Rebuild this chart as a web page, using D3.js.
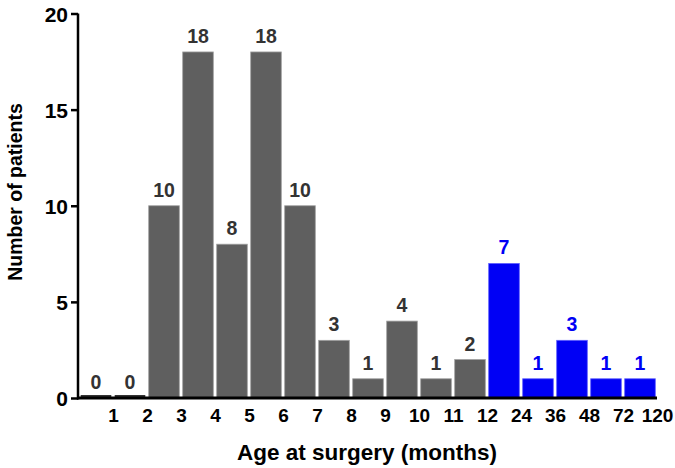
<!DOCTYPE html>
<html><head><meta charset="utf-8">
<script src="https://cdn.jsdelivr.net/npm/d3@7"></script>
<style>body{margin:0;background:#fff}svg{display:block}text{font-family:Arial,"Liberation Sans",sans-serif}</style>
</head><body>
<svg id="c" width="675" height="468"></svg>
<script>
const categories = ["0-1","1-2","2-3","3-4","4-5","5-6","6-7","7-8","8-9","9-10","10-11","11-12","12-24","24-36","36-48","48-72","72-120"];
const values = [0,0,10,18,8,18,10,3,1,4,1,2,7,1,3,1,1];
const groups = ["g","g","g","g","g","g","g","g","g","g","g","g","b","b","b","b","b"];
const xTickLabels = ["1","2","3","4","5","6","7","8","9","10","11","12","24","36","48","72","120"];
const yTicks = [0,5,10,15,20];

(function(){
const svg = d3.select("#c");
const mLeft = 79, mRight = 657, mTop = 13.5, mBottom = 398;
const x = d3.scaleBand().domain(categories).range([mLeft, mRight]).paddingInner(0.1).paddingOuter(0.05);
const xb = d3.scaleLinear().domain([0, categories.length]).range([mLeft, mRight]);
const y = d3.scaleLinear().domain([0,20]).range([mBottom, mTop]);
const fill = {g:"#5f5f5f", b:"#0000f5"};
const labCol = {g:"#333333", b:"#0000f5"};
const FF = "Arial,'Liberation Sans',sans-serif";

svg.append("g").selectAll("rect").data(values).join("rect")
  .attr("x", (d,i)=>x(categories[i]))
  .attr("width", x.bandwidth())
  .attr("y", d => d===0 ? y(0)-3 : y(d))
  .attr("height", d => d===0 ? 3 : y(0)-y(d))
  .attr("fill", (d,i)=> d===0 ? "#333" : fill[groups[i]])
  .attr("stroke", (d,i)=> d===0 ? "none" : (groups[i]==="g" ? "#a0a0a0" : "#6060ff"))
  .attr("stroke-width", 0.8);

svg.append("g").selectAll("text").data(values).join("text")
  .attr("x", (d,i)=>x(categories[i]) + x.bandwidth()/2)
  .attr("y", d => y(d) - 9)
  .attr("text-anchor","middle")
  .attr("font-size", 19.5)
  .attr("font-weight","bold")
  .attr("fill", (d,i)=>labCol[groups[i]])
  .text(d=>d);

const yAxis = d3.axisLeft(y).tickValues(yTicks).tickSize(7).tickPadding(3);
const gy = svg.append("g").attr("transform",`translate(${mLeft-1},0)`).call(yAxis);
gy.select(".domain").attr("stroke","#000").attr("stroke-width",2.5).attr("d",`M0,${mTop}V${mBottom+1.5}`);
gy.selectAll(".tick line").attr("stroke","#000").attr("stroke-width",2.5);
gy.selectAll(".tick text").attr("font-size",21).attr("font-weight","bold").attr("fill","#000").attr("font-family",FF).attr("dy","0.36em");

const xAxis = d3.axisBottom(xb).tickValues(d3.range(1, categories.length+1)).tickFormat((d,i)=>xTickLabels[i]).tickSize(0).tickPadding(11);
const gx = svg.append("g").attr("transform",`translate(0,${mBottom})`).call(xAxis);
gx.select(".domain").attr("stroke","#000").attr("stroke-width",2.8).attr("d",`M${mLeft-2},0H${mRight}`);
gx.selectAll(".tick text").attr("font-size",19).attr("font-weight","bold").attr("fill","#000").attr("font-family",FF);

svg.append("text").attr("x",367).attr("y",460).attr("text-anchor","middle")
  .attr("font-size",22.5).attr("font-weight","bold").attr("fill","#000").text("Age at surgery (months)");
svg.append("text").attr("transform","translate(22,192) rotate(-90)").attr("text-anchor","middle")
  .attr("font-size",19.5).attr("font-weight","bold").attr("fill","#000").text("Number of patients");
})();
</script>
</body></html>
